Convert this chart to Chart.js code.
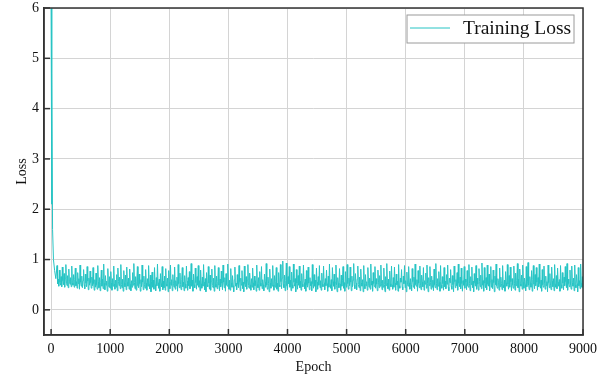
<!DOCTYPE html>
<html>
<head>
<meta charset="utf-8">
<script src="https://cdn.jsdelivr.net/npm/chart.js@4.4.0/dist/chart.umd.min.js"></script>
<style>
  html, body { margin: 0; padding: 0; background: #fff; }
  #wrap { width: 601px; height: 381px; }
</style>
</head>
<body>
<div id="wrap"><canvas id="lossChart"></canvas></div>
<script>
// axis ticks
const xTickValues = [0, 1000, 2000, 3000, 4000, 5000, 6000, 7000, 8000, 9000];
const yTickValues = [0, 1, 2, 3, 4, 5, 6];

// first few epochs (steep drop)
const earlyEpochs = [0, 8, 15, 25, 40, 60, 80];
const earlyLoss = [6.0, 2.1, 4.7, 1.6, 1.0, 0.78, 0.62];

// loss read roughly every 10 epochs from epoch 100 to 9000
const bandStart = 100;
const bandEnd = 9000;
const bandLoss = [
  0.88, 0.52, 0.61, 0.47, 0.79, 0.55, 0.49, 0.66, 0.46, 0.85, 0.58, 0.50, 0.72, 0.45, 0.63, 0.90, 0.53, 0.48, 0.68, 0.44, 0.81, 0.57, 0.51, 0.64, 0.46, 0.87, 0.54, 0.49, 0.70, 0.45,
  0.60, 0.83, 0.48, 0.56, 0.43, 0.74, 0.52, 0.62, 0.41, 0.89, 0.55, 0.47, 0.67, 0.44, 0.58, 0.80, 0.50, 0.42, 0.71, 0.53, 0.46, 0.86, 0.57, 0.40, 0.63, 0.49, 0.77, 0.54, 0.43, 0.65,
  0.48, 0.84, 0.52, 0.39, 0.60, 0.45, 0.73, 0.50, 0.41, 0.88, 0.56, 0.44, 0.64, 0.38, 0.55, 0.79, 0.47, 0.61, 0.42, 0.91, 0.53, 0.40, 0.68, 0.49, 0.57, 0.37, 0.82, 0.51, 0.45, 0.66,
  0.43, 0.76, 0.54, 0.39, 0.62, 0.47, 0.87, 0.52, 0.41, 0.59, 0.45, 0.70, 0.38, 0.83, 0.56, 0.48, 0.65, 0.42, 0.90, 0.50, 0.44, 0.61, 0.37, 0.78, 0.53, 0.46, 0.69, 0.40, 0.85, 0.55,
  0.47, 0.63, 0.41, 0.81, 0.51, 0.38, 0.58, 0.45, 0.74, 0.49, 0.92, 0.54, 0.42, 0.66, 0.39, 0.57, 0.86, 0.48, 0.44, 0.71, 0.52, 0.37, 0.60, 0.46, 0.89, 0.55, 0.40, 0.67, 0.50, 0.43,
  0.80, 0.53, 0.39, 0.62, 0.47, 0.88, 0.51, 0.42, 0.69, 0.36, 0.56, 0.75, 0.45, 0.59, 0.41, 0.84, 0.50, 0.38, 0.64, 0.48, 0.91, 0.54, 0.43, 0.61, 0.37, 0.72, 0.52, 0.46, 0.86, 0.40,
  0.57, 0.44, 0.67, 0.39, 0.82, 0.51, 0.47, 0.63, 0.36, 0.78, 0.55, 0.42, 0.89, 0.49, 0.60, 0.38, 0.70, 0.53, 0.45, 0.85, 0.41, 0.58, 0.48, 0.65, 0.37, 0.90, 0.52, 0.44, 0.73, 0.50,
  0.40, 0.61, 0.84, 0.46, 0.55, 0.38, 0.68, 0.51, 0.43, 0.87, 0.57, 0.39, 0.64, 0.48, 0.76, 0.42, 0.53, 0.92, 0.47, 0.59, 0.37, 0.71, 0.50, 0.44, 0.83, 0.54, 0.41, 0.66, 0.49, 0.88,
  0.45, 0.58, 0.38, 0.79, 0.52, 0.43, 0.65, 0.47, 0.90, 0.55, 0.40, 0.62, 0.36, 0.74, 0.50, 0.46, 0.86, 0.53, 0.41, 0.69, 0.39, 0.57, 0.81, 0.48, 0.44, 0.63, 0.37, 0.88, 0.51, 0.45,
  0.67, 0.42, 0.56, 0.84, 0.49, 0.38, 0.61, 0.46, 0.77, 0.53, 0.40, 0.89, 0.55, 0.44, 0.64, 0.37, 0.72, 0.50, 0.47, 0.91, 0.52, 0.41, 0.59, 0.39, 0.82, 0.54, 0.45, 0.68, 0.48, 0.36,
  0.60, 0.85, 0.47, 0.53, 0.40, 0.70, 0.51, 0.44, 0.88, 0.56, 0.38, 0.63, 0.49, 0.78, 0.42, 0.55, 0.36, 0.87, 0.52, 0.46, 0.66, 0.41, 0.59, 0.90, 0.48, 0.43, 0.73, 0.50, 0.39, 0.62,
  0.45, 0.83, 0.54, 0.40, 0.67, 0.48, 0.58, 0.37, 0.89, 0.51, 0.44, 0.64, 0.39, 0.76, 0.53, 0.47, 0.86, 0.42, 0.60, 0.50, 0.38, 0.71, 0.55, 0.45, 0.92, 0.49, 0.41, 0.65, 0.52, 0.36,
  0.81, 0.54, 0.43, 0.62, 0.47, 0.88, 0.50, 0.39, 0.68, 0.45, 0.57, 0.84, 0.41, 0.53, 0.37, 0.74, 0.49, 0.46, 0.90, 0.56, 0.42, 0.63, 0.97, 0.51, 0.44, 0.69, 0.38, 0.58, 0.93, 0.48,
  0.40, 0.66, 0.52, 0.86, 0.45, 0.59, 0.38, 0.75, 0.50, 0.43, 0.91, 0.55, 0.47, 0.62, 0.36, 0.80, 0.53, 0.41, 0.68, 0.49, 0.87, 0.44, 0.57, 0.39, 0.72, 0.51, 0.46, 0.89, 0.54, 0.42,
  0.61, 0.37, 0.78, 0.50, 0.45, 0.85, 0.53, 0.40, 0.64, 0.48, 0.56, 0.38, 0.90, 0.52, 0.43, 0.70, 0.47, 0.59, 0.36, 0.83, 0.55, 0.41, 0.66, 0.49, 0.88, 0.44, 0.58, 0.39, 0.73, 0.51,
  0.46, 0.87, 0.54, 0.40, 0.62, 0.48, 0.79, 0.52, 0.37, 0.67, 0.45, 0.91, 0.50, 0.43, 0.60, 0.38, 0.84, 0.56, 0.47, 0.71, 0.41, 0.55, 0.89, 0.49, 0.36, 0.64, 0.53, 0.44, 0.82, 0.51,
  0.39, 0.69, 0.47, 0.58, 0.86, 0.43, 0.54, 0.37, 0.76, 0.50, 0.45, 0.90, 0.52, 0.41, 0.63, 0.48, 0.85, 0.55, 0.38, 0.67, 0.46, 0.59, 0.92, 0.49, 0.42, 0.72, 0.53, 0.40, 0.61, 0.87,
  0.50, 0.44, 0.65, 0.38, 0.81, 0.54, 0.47, 0.60, 0.36, 0.88, 0.51, 0.42, 0.70, 0.48, 0.56, 0.39, 0.84, 0.53, 0.45, 0.63, 0.41, 0.91, 0.49, 0.57, 0.37, 0.74, 0.52, 0.46, 0.86, 0.43,
  0.62, 0.51, 0.38, 0.79, 0.55, 0.44, 0.68, 0.47, 0.89, 0.53, 0.40, 0.59, 0.45, 0.83, 0.50, 0.36, 0.66, 0.48, 0.92, 0.54, 0.42, 0.61, 0.39, 0.77, 0.52, 0.46, 0.87, 0.49, 0.41, 0.64,
  0.45, 0.85, 0.53, 0.39, 0.71, 0.50, 0.57, 0.37, 0.90, 0.48, 0.43, 0.63, 0.55, 0.80, 0.46, 0.40, 0.67, 0.52, 0.88, 0.44, 0.58, 0.36, 0.75, 0.51, 0.47, 0.86, 0.54, 0.41, 0.62, 0.49,
  0.38, 0.82, 0.56, 0.45, 0.65, 0.42, 0.91, 0.50, 0.47, 0.60, 0.37, 0.78, 0.53, 0.44, 0.87, 0.49, 0.40, 0.69, 0.55, 0.46, 0.84, 0.39, 0.58, 0.51, 0.73, 0.43, 0.89, 0.52, 0.36, 0.64,
  0.48, 0.86, 0.54, 0.41, 0.67, 0.45, 0.59, 0.38, 0.81, 0.50, 0.44, 0.92, 0.53, 0.40, 0.62, 0.47, 0.76, 0.55, 0.37, 0.88, 0.49, 0.43, 0.66, 0.52, 0.39, 0.84, 0.46, 0.57, 0.42, 0.70,
  0.51, 0.89, 0.45, 0.38, 0.63, 0.54, 0.80, 0.47, 0.41, 0.68, 0.50, 0.36, 0.87, 0.56, 0.44, 0.60, 0.48, 0.74, 0.39, 0.91, 0.53, 0.46, 0.65, 0.42, 0.83, 0.52, 0.37, 0.58, 0.49, 0.86,
  0.43, 0.61, 0.55, 0.40, 0.78, 0.48, 0.45, 0.90, 0.52, 0.38, 0.66, 0.50, 0.85, 0.44, 0.57, 0.36, 0.72, 0.54, 0.47, 0.88, 0.41, 0.63, 0.51, 0.39, 0.82, 0.56, 0.46, 0.69, 0.42, 0.93,
  0.49, 0.58, 0.37, 0.84, 0.53, 0.44, 0.64, 0.40, 0.89, 0.51, 0.47, 0.71, 0.38, 0.56, 0.86, 0.45, 0.60, 0.42, 0.79, 0.54, 0.36, 0.67, 0.50, 0.91, 0.48, 0.43, 0.62, 0.55, 0.39, 0.83,
  0.46, 0.65, 0.52, 0.40, 0.88, 0.49, 0.44, 0.59, 0.37, 0.76, 0.54, 0.47, 0.90, 0.51, 0.41, 0.68, 0.45, 0.85, 0.56, 0.38, 0.62, 0.50, 0.43, 0.87, 0.53, 0.39, 0.73, 0.48, 0.58, 0.92,
  0.44, 0.61, 0.36, 0.81, 0.52, 0.47, 0.69, 0.41, 0.89, 0.55, 0.43, 0.63, 0.50, 0.38, 0.86, 0.46, 0.57, 0.94, 0.49, 0.40, 0.66, 0.53, 0.45, 0.78, 0.37, 0.60, 0.88, 0.51, 0.42, 0.70,
  0.48, 0.84, 0.55, 0.39, 0.64, 0.46, 0.91, 0.52, 0.43, 0.59, 0.37, 0.80, 0.50, 0.45, 0.87, 0.53, 0.41, 0.67, 0.48, 0.56, 0.36, 0.89, 0.54, 0.44, 0.72, 0.49, 0.40, 0.85, 0.57, 0.46,
  0.62, 0.38, 0.90, 0.51, 0.45, 0.68, 0.42, 0.83, 0.55, 0.47, 0.60, 0.37, 0.88, 0.50, 0.43, 0.74, 0.53, 0.40, 0.65, 0.48, 0.86, 0.56, 0.44, 0.92, 0.39, 0.61, 0.52, 0.46, 0.79, 0.49,
  0.41, 0.87, 0.54, 0.47, 0.63, 0.38, 0.89, 0.50, 0.44, 0.70, 0.52, 0.36, 0.84, 0.48, 0.58, 0.42, 0.91, 0.53, 0.45, 0.66, 0.43
];

const lineColor = '#26c4c4';
const serif = "'Liberation Serif', 'Times New Roman', serif";

var points = [];
earlyEpochs.forEach(function(e, i) { points.push({x: e, y: earlyLoss[i]}); });
var bandStep = (bandEnd - bandStart) / (bandLoss.length - 1);
bandLoss.forEach(function(v, i) { points.push({x: bandStart + i * bandStep, y: v}); });

// frame, inward ticks and boxed legend
const framePlugin = {
  id: 'frame',
  afterDraw(chart) {
    var ctx = chart.ctx, a = chart.chartArea;
    var xs = chart.scales.x, ys = chart.scales.y;
    ctx.save();
    ctx.strokeStyle = '#333';
    ctx.lineWidth = 1.5;
    ctx.strokeRect(a.left, a.top, a.right - a.left, a.bottom - a.top);
    xTickValues.forEach(function(v) {
      var px = xs.getPixelForValue(v);
      ctx.beginPath(); ctx.moveTo(px, a.bottom); ctx.lineTo(px, a.bottom - 6); ctx.stroke();
    });
    yTickValues.forEach(function(v) {
      var py = ys.getPixelForValue(v);
      ctx.beginPath(); ctx.moveTo(a.left, py); ctx.lineTo(a.left + 6, py); ctx.stroke();
    });

    // legend
    var bx = a.right - 176, by = a.top + 7, bw = 167, bh = 28;
    ctx.fillStyle = '#fff';
    ctx.fillRect(bx, by, bw, bh);
    ctx.strokeStyle = '#9a9a9a';
    ctx.lineWidth = 1;
    ctx.strokeRect(bx, by, bw, bh);
    ctx.strokeStyle = lineColor;
    ctx.beginPath(); ctx.moveTo(bx + 3, by + 13); ctx.lineTo(bx + 43, by + 13); ctx.stroke();
    ctx.fillStyle = '#111';
    ctx.font = '19.5px ' + serif;
    ctx.textBaseline = 'middle';
    ctx.fillText(chart.data.datasets[0].label, bx + 56, by + 14);
    ctx.restore();
  }
};

new Chart(document.getElementById('lossChart'), {
  type: 'line',
  data: {
    datasets: [{
      label: 'Training Loss',
      data: points,
      borderColor: lineColor,
      borderWidth: 1,
      pointRadius: 0,
      tension: 0
    }]
  },
  options: {
    responsive: true,
    maintainAspectRatio: false,
    animation: false,
    layout: { padding: { top: 8, right: 18, left: 0, bottom: 0 } },
    plugins: {
      legend: { display: false },
      tooltip: { enabled: false }
    },
    scales: {
      x: {
        type: 'linear',
        min: -120,
        max: 9000,
        afterBuildTicks: function(scale) {
          scale.ticks = xTickValues.map(function(v) { return {value: v}; });
        },
        afterFit: function(scale) {
          scale.height = 46;
          scale.paddingLeft = 0;
          scale.paddingRight = 0;
        },
        grid: { color: '#d4d4d4', lineWidth: 1, drawTicks: false },
        border: { color: '#333', width: 1.5 },
        ticks: {
          color: '#111', padding: 6, maxRotation: 0,
          font: { family: serif, size: 14 },
          callback: function(v) { return String(v); }
        },
        title: { display: true, text: 'Epoch', color: '#111', padding: { top: 0, bottom: 5 }, font: { family: serif, size: 14 } }
      },
      y: {
        min: -0.5,
        max: 6,
        afterBuildTicks: function(scale) {
          scale.ticks = yTickValues.map(function(v) { return {value: v}; });
        },
        afterFit: function(scale) {
          scale.width = 44;
          scale.paddingTop = 0;
          scale.paddingBottom = 0;
        },
        grid: { color: '#d4d4d4', lineWidth: 1, drawTicks: false },
        border: { color: '#333', width: 1.5 },
        ticks: {
          color: '#111', padding: 5,
          font: { family: serif, size: 14 },
          callback: function(v) { return String(v); }
        },
        title: { display: true, text: 'Loss', color: '#111', padding: { top: 14, bottom: 0 }, font: { family: serif, size: 14 } }
      }
    }
  },
  plugins: [framePlugin]
});
</script>
</body>
</html>
